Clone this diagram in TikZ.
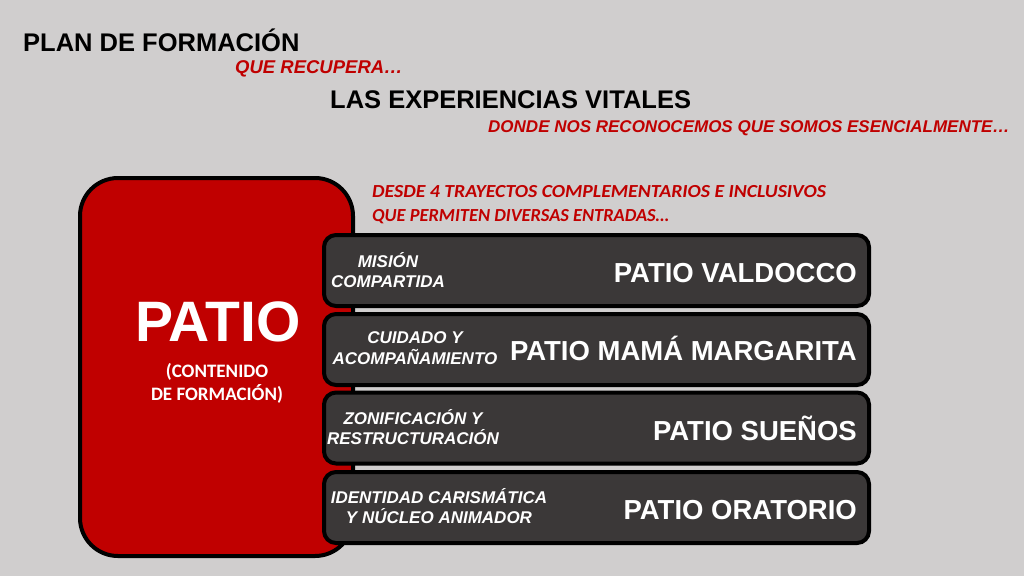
\documentclass[tikz,border=0pt]{standalone}
\usepackage{fontspec}
\setmainfont{Liberation Sans}
\newfontfamily\calfont{Carlito}
\definecolor{bgc}{HTML}{D0CECE}
\definecolor{redc}{HTML}{C00000}
\definecolor{barc}{HTML}{3B3838}
\begin{document}
\begin{tikzpicture}[x=1pt,y=-1pt,
  bar/.style={draw=black,line width=4pt,fill=barc,rounded corners=12pt,minimum width=545pt,minimum height=71pt,inner sep=0pt},
  head/.style={anchor=west,inner sep=0pt,font=\fontsize{25.5}{30}\selectfont\bfseries,text=black},
  sub/.style={anchor=west,inner sep=0pt,font=\fontsize{17}{21}\selectfont\bfseries\itshape,text=redc},
  cal/.style={anchor=west,inner sep=0pt,font=\calfont\fontsize{18.4}{22}\selectfont\bfseries\itshape,text=redc},
  small/.style={align=center,inner sep=0pt,text=white,font=\fontsize{17}{20.5}\selectfont\bfseries\itshape},
  big/.style={anchor=base east,inner sep=0pt,text=white,font=\fontsize{27.5}{32}\selectfont\bfseries}]
\useasboundingbox (0,0) rectangle (1024,576);
\fill[bgc] (0,0) rectangle (1024,576);
% red box
\node[draw=black,line width=4pt,fill=redc,rounded corners=38pt,minimum width=273pt,minimum height=378pt,inner sep=0pt] (red) at (216.5,367) {};
% bars
\node[bar] (b1) at (596.5,270.5) {};
\node[bar] (b2) at (596.5,349.5) {};
\node[bar] (b3) at (596.5,428) {};
\node[bar] (b4) at (596.5,507.5) {};
% headings
\node[head] (t1) at (23,40) {PLAN DE FORMACIÓN};
\node[sub,font=\fontsize{18.5}{21}\selectfont\bfseries\itshape] (t2) at (235,69) {QUE RECUPERA…};
\node[head] (t3) at (330,100) {LAS EXPERIENCIAS VITALES};
\node[sub] (t4) at (488,128) {DONDE NOS RECONOCEMOS QUE SOMOS ESENCIALMENTE…};
\node[cal] (t5) at (372,191.5) {\scalebox{1.075}[1]{DESDE 4 TRAYECTOS COMPLEMENTARIOS E INCLUSIVOS}};
\node[cal] (t6) at (372,216.5) {QUE PERMITEN DIVERSAS ENTRADAS…};
% patio
\node[inner sep=0pt,text=white,font=\fontsize{57}{60}\selectfont\bfseries] (patio) at (218,322) {PATIO};
\node[inner sep=0pt,align=center,text=white,font=\calfont\fontsize{19}{23}\selectfont\bfseries] (cont) at (217,383) {(CONTENIDO\\DE FORMACIÓN)};
% small labels
\node[small] (s1) at (388,270) {MISIÓN\\COMPARTIDA};
\node[small] (s2) at (415,348) {CUIDADO Y\\ACOMPAÑAMIENTO};
\node[small] (s3) at (413,427) {ZONIFICACIÓN Y\\RESTRUCTURACIÓN};
\node[small] (s4) at (439,506) {IDENTIDAD CARISMÁTICA\\Y NÚCLEO ANIMADOR};
% big labels
\node[big] (p1) at (857,282) {PATIO VALDOCCO};
\node[big] (p2) at (857,360) {PATIO MAMÁ MARGARITA};
\node[big] (p3) at (857,440) {PATIO SUEÑOS};
\node[big] (p4) at (857,519.5) {PATIO ORATORIO};
\end{tikzpicture}
\end{document}
